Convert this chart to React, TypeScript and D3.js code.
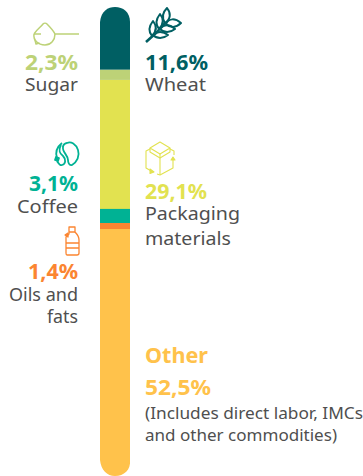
import React from "react";
import * as d3 from "d3";

const categories = ["Wheat", "Sugar", "Packaging materials", "Coffee", "Oils and fats", "Other"];
const shareLabels = ["11,6%", "2,3%", "29,1%", "3,1%", "1,4%", "52,5%"];
// segment lengths as drawn in the picture (% of the bar)
const drawnShare = [13.4, 2.15, 27.5, 3.0, 1.3, 52.65];
const colors = ["#005f63", "#bdd277", "#e2e250", "#00b294", "#fb8531", "#ffc24b"];
const GREY = "#4f4f4f";
const FONT = "'Noto Sans', sans-serif";

const starts = d3.cumsum([0, ...drawnShare]);
const y = d3.scaleLinear().domain([0, 100]).range([7, 476]);
const barX = 100, barW = 30;

function segPath(i: number) {
  const y0 = y(starts[i]), y1 = y(starts[i + 1]);
  const p = d3.path();
  if (i === 0) {
    p.moveTo(barX, y1);
    p.lineTo(barX, y0 + 15);
    p.bezierCurveTo(barX + 1, y0 + 4, barX + 8, y0, barX + 15, y0);
    p.bezierCurveTo(barX + 23, y0, barX + 30, y0 + 5, barX + 30, y0 + 15);
    p.lineTo(barX + 30, y1);
    p.closePath();
  } else if (i === categories.length - 1) {
    p.moveTo(barX, y0);
    p.lineTo(barX + barW, y0);
    p.lineTo(barX + barW, y1 - 16);
    p.bezierCurveTo(barX + barW + 1, y1 - 6, barX + 24, y1, barX + 15, y1);
    p.bezierCurveTo(barX + 7, y1, barX + 1, y1 - 6, barX, y1 - 16);
    p.closePath();
  } else {
    p.rect(barX, y0, barW, y1 - y0);
  }
  return p.toString();
}

function T(props: { x: number; y: number; fs: number; fill?: string; bold?: boolean; end?: boolean; w?: number; children: string }) {
  const { x, y: ty, fs, fill = GREY, bold, end, w, children } = props;
  return (
    <text
      x={x}
      y={ty}
      fontSize={fs}
      fontFamily={FONT}
      fontWeight={bold ? 700 : 400}
      fill={fill}
      textAnchor={end ? "end" : "start"}
      textLength={w}
      lengthAdjust={w ? "spacingAndGlyphs" : undefined}
    >
      {children}
    </text>
  );
}

export default function App() {
  return (
    <svg
      width={363}
      height={476}
      viewBox="0 0 363 476"
      style={{ position: "absolute", left: 0, top: 0, display: "block" }}
    >
      {categories.map((c, i) => (
        <path key={c} d={segPath(i)} fill={colors[i]} />
      ))}

      {/* Sugar icon */}
      <g fill="none" stroke={colors[1]} strokeWidth={1.5} strokeLinejoin="round">
        <path d="M34 34 C37 29 41 27 43 24 C44 23 46 23 47 24 C50 27 53 30 55 34 H79" />
        <path d="M34 34 C33 40 38 45 45 45 C51 45 55 40 55 34" />
        <path d="M34 34 H41" />
        <path d="M35 40 l1 4 l3.5 -1" />
      </g>
      <T x={78} y={70} fs={22} bold end w={53} fill={colors[1]}>{shareLabels[1]}</T>
      <T x={78} y={91} fs={18} end w={53}>Sugar</T>

      {/* Wheat icon */}
      <g fill="none" stroke={colors[0]} strokeWidth={2} strokeLinejoin="round">
        <path d="M146 42 L156 33 L165 23" strokeWidth={2.6} />
        <path d="M165 23 C161 17 163 12 167 8 C171 13 171 19 165 23 Z" />
        <path d="M166 24 C169 18 175 18 181 23 C176 28 170 28 166 24 Z" />
        <path d="M159 29 C155 24 156 19 160 14 C164 19 164 24 159 29 Z" />
        <path d="M160 29 C164 24 170 24 175 29 C170 33 164 33 160 29 Z" />
        <path d="M152 36 C148 31 149 26 153 21 C157 26 157 31 152 36 Z" />
        <path d="M153 35 C157 31 163 31 168 35 C163 39 157 39 153 35 Z" />
      </g>
      <T x={145} y={70} fs={22} bold w={63} fill={colors[0]}>{shareLabels[0]}</T>
      <T x={145} y={91} fs={18} w={61}>Wheat</T>

      {/* Coffee icon */}
      <g fill="none" stroke={colors[3]} strokeWidth={1.8} strokeLinejoin="round">
        <path d="M62 143 C57 147 55 152 57 158" />
        <path d="M67 143 C71 141 76 144 78 150 C80 156 77 162 72 165 C69 166 68 162 68 160 C68 155 62 152 63 147 C63 145 65 143 67 143 Z" />
        <path d="M61 145 C58 150 60 154 63 156 C66 159 66 164 62 165 C60 166 59 164 57 161" />
        <path d="M56 157 l3 1 l-1 3 l-3 -1 Z" fill={colors[3]} />
      </g>
      <T x={78} y={191} fs={22} bold end w={49} fill={colors[3]}>{shareLabels[3]}</T>
      <T x={78} y={213} fs={18} end w={61}>Coffee</T>

      {/* Oil bottle icon */}
      <g fill="none" stroke={colors[4]} strokeWidth={1.3} strokeLinejoin="round">
        <path d="M69 227 H75 V232 C78 235 79 237 79 240 V253 C79 254 78 255 77 255 H67 C66 255 66 254 66 253 V237 L69 234 Z" />
        <path d="M66 243 H79 M66 248 H79 M69 232 H75" />
        <path d="M65 235 l3 -2 v4 Z" fill={colors[4]} />
      </g>
      <T x={78} y={279} fs={22} bold end w={50} fill={colors[4]}>{shareLabels[4]}</T>
      <T x={78} y={301} fs={18} end w={69}>Oils and</T>
      <T x={78} y={323} fs={18} end w={31}>fats</T>

      {/* Packaging icon */}
      <g fill="none" stroke={colors[2]} strokeWidth={1.1} strokeLinejoin="round">
        <path d="M150 148 L160 142 L170 148 L160 154 Z" />
        <path d="M150 148 V152 L160 158 L170 152 V148" />
        <path d="M160 154 V175" />
        <path d="M150 149 L146 151 V168 L153 172 M157 174 L160 175 L173 168 V160" />
        <path d="M170 149 L174 151 V155" />
        <path d="M150 169 l4 3 l-4 1.5 Z M173 157 l-2 3 h4 Z" fill={colors[2]} />
      </g>
      <T x={145} y={199} fs={22} bold w={62} fill={colors[2]}>{shareLabels[2]}</T>
      <T x={145} y={220} fs={18} w={95}>Packaging</T>
      <T x={145} y={245} fs={18} w={86}>materials</T>

      {/* Other */}
      <T x={145} y={363} fs={21} bold w={63} fill={colors[5]}>Other</T>
      <T x={145} y={395} fs={22} bold w={66} fill={colors[5]}>{shareLabels[5]}</T>
      <T x={145} y={419} fs={15.5} w={218}>(Includes direct labor, IMCs</T>
      <T x={145} y={441} fs={15.5} w={192}>and other commodities)</T>
    </svg>
  );
}
